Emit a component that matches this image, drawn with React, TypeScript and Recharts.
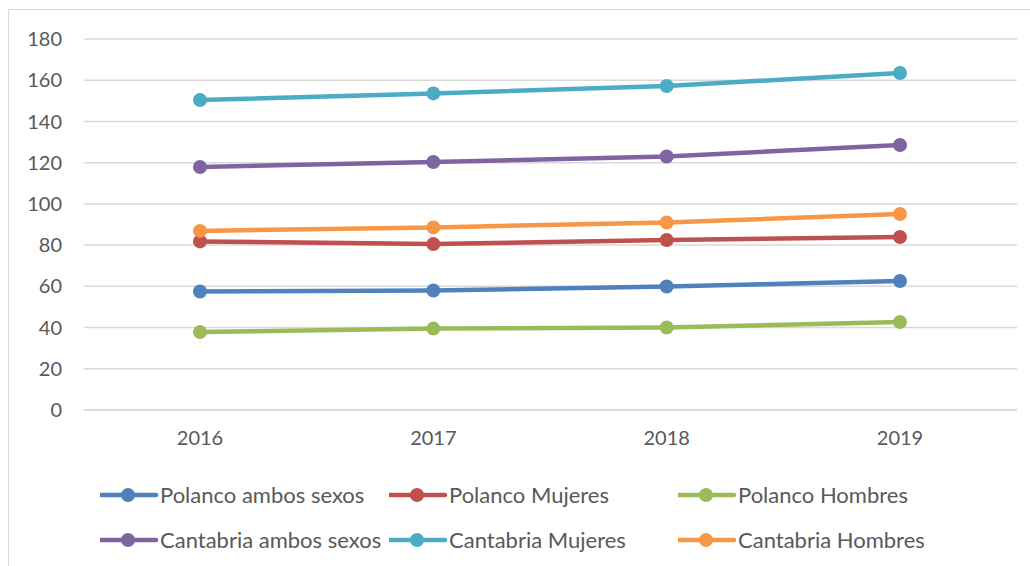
import { CartesianGrid, Line, LineChart, XAxis, YAxis } from 'recharts';

const years = ['2016', '2017', '2018', '2019'];

const polancoAmbos = [57.5, 58, 59.9, 62.6];
const polancoMujeres = [81.8, 80.5, 82.5, 83.9];
const polancoHombres = [37.8, 39.5, 40, 42.7];
const cantabriaAmbos = [117.9, 120.3, 123, 128.6];
const cantabriaMujeres = [150.4, 153.6, 157.2, 163.5];
const cantabriaHombres = [86.9, 88.6, 91, 95.1];

const yTicks = [0, 20, 40, 60, 80, 100, 120, 140, 160, 180];

const series = [
  { key: 'polancoAmbos', name: 'Polanco ambos sexos', color: '#4F81BD', values: polancoAmbos },
  { key: 'polancoMujeres', name: 'Polanco Mujeres', color: '#C0504D', values: polancoMujeres },
  { key: 'polancoHombres', name: 'Polanco Hombres', color: '#9BBB59', values: polancoHombres },
  { key: 'cantabriaAmbos', name: 'Cantabria ambos sexos', color: '#8064A2', values: cantabriaAmbos },
  { key: 'cantabriaMujeres', name: 'Cantabria Mujeres', color: '#4BACC6', values: cantabriaMujeres },
  { key: 'cantabriaHombres', name: 'Cantabria Hombres', color: '#F79646', values: cantabriaHombres },
];

const data = years.map((year, i) => {
  const row: Record<string, string | number> = { year };
  series.forEach((s) => {
    row[s.key] = s.values[i];
  });
  return row;
});

const FONT = 'Lato, sans-serif';

function LegendItem({ name, color }: { name: string; color: string }) {
  return (
    <div style={{ display: 'flex', alignItems: 'center', width: 289, height: 45 }}>
      <svg width={60} height={20} style={{ flexShrink: 0 }}>
        <line x1={0} y1={10} x2={56} y2={10} stroke={color} strokeWidth={4.5} strokeLinecap="round" />
        <circle cx={28} cy={10} r={7} fill={color} />
      </svg>
      <span style={{ fontSize: 22, color: '#595959', whiteSpace: 'nowrap' }}>{name}</span>
    </div>
  );
}

export default function App() {
  return (
    <div style={{ position: 'absolute', left: 0, top: 0, width: 1030, height: 566, background: '#fff', fontFamily: FONT, overflow: 'hidden' }}>
      <div style={{ position: 'absolute', left: 8, top: 9, width: 1040, height: 600, border: '1.5px solid #d9d9d9' }} />
      <LineChart width={1030} height={566} data={data} margin={{ top: 39, right: 13, left: 24, bottom: 116 }}>
        <CartesianGrid vertical={false} stroke="#d9d9d9" strokeWidth={1.5} />
        <XAxis
          dataKey="year"
          padding={{ left: 116, right: 117 }}
          axisLine={{ stroke: '#d9d9d9', strokeWidth: 1.5 }}
          tickLine={false}
          tickMargin={15}
          height={40}
          tick={{ fill: '#595959', fontSize: 20, fontFamily: FONT }}
        />
        <YAxis
          domain={[0, 180]}
          ticks={yTicks}
          width={60}
          axisLine={false}
          tickLine={false}
          tickMargin={16}
          tick={{ fill: '#595959', fontSize: 20, fontFamily: FONT }}
        />
        {series.map((s) => (
          <Line
            key={s.key}
            dataKey={s.key}
            name={s.name}
            stroke={s.color}
            strokeWidth={4.5}
            dot={{ r: 7, fill: s.color, stroke: s.color, strokeWidth: 0 }}
            activeDot={false}
            isAnimationActive={false}
          />
        ))}
      </LineChart>
      <div style={{ position: 'absolute', left: 100, top: 472, width: 880, display: 'flex', flexWrap: 'wrap' }}>
        {series.map((s) => (
          <LegendItem key={s.key} name={s.name} color={s.color} />
        ))}
      </div>
    </div>
  );
}
